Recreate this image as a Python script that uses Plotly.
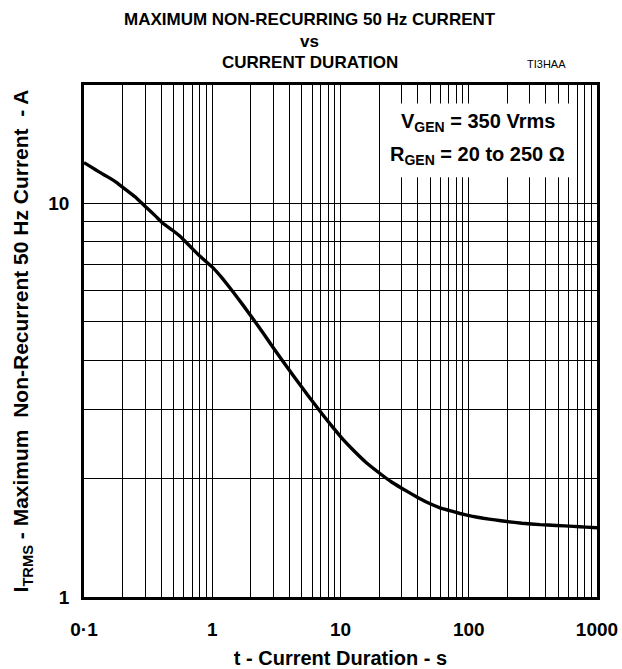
import numpy as np
import plotly.graph_objects as go

# Curve data
t_s = [0.1, 0.115, 0.13, 0.145, 0.159, 0.18, 0.2, 0.25, 0.308, 0.36, 0.415, 0.49, 0.561, 0.68,
       0.8, 1.02, 1.2, 1.46, 1.75, 2.09, 2.5, 2.99, 3.6, 4.29, 5.1, 6.14, 7.3, 8.79, 10.5,
       12.6, 16, 20.3, 25, 30, 40, 50, 59.7, 70, 85.5, 105, 130, 160, 198, 260, 360, 480,
       653, 820, 1000]
i_a = [12.7, 12.35, 12.05, 11.8, 11.6, 11.3, 11.0, 10.4, 9.75, 9.3, 8.89, 8.55, 8.25, 7.75,
       7.35, 6.85, 6.45, 5.95, 5.5, 5.08, 4.68, 4.30, 3.95, 3.65, 3.38, 3.12, 2.90, 2.69, 2.51,
       2.36, 2.19, 2.06, 1.96, 1.89, 1.79, 1.725, 1.685, 1.66, 1.63, 1.605, 1.585, 1.57, 1.555,
       1.54, 1.527, 1.52, 1.512, 1.505, 1.50]

x_grid = [m * 10.0 ** e for e in range(-1, 3) for m in range(1, 10)] + [1000]
x_labels = {0.1: "0·1", 1: "1", 10: "10", 100: "100", 1000: "1000"}
y_grid = list(range(1, 11)) + [20]
y_labels = {1: "1", 10: "10"}

title_lines = ["MAXIMUM NON-RECURRING 50 Hz CURRENT", "vs", "CURRENT DURATION"]

FONT = "Liberation Sans"

fig = go.Figure()
fig.add_trace(go.Scatter(x=t_s, y=i_a, mode="lines",
                         line=dict(color="black", width=3.4, shape="spline", smoothing=0.3),
                         hoverinfo="skip", showlegend=False))

def lab(v, d):
    for k, s in d.items():
        if abs(v - k) < 1e-9 * max(1, k):
            return s
    return ""

fig.update_xaxes(type="log", range=[-1, 3], automargin=False,
                 tickvals=x_grid, ticktext=[lab(v, x_labels) for v in x_grid],
                 showgrid=True, gridcolor="black", gridwidth=1.3,
                 showline=True, linecolor="black", linewidth=2.5, mirror=True,
                 ticks="", zeroline=False, ticklabelstandoff=13,
                 tickfont=dict(family=FONT, size=19, color="black", weight="bold"),
                 title=dict(text="t - Current Duration - s", standoff=18,
                            font=dict(family=FONT, size=20, color="black", weight="bold")))
fig.update_yaxes(type="log", range=[0, np.log10(20)], automargin=False,
                 tickvals=y_grid, ticktext=[lab(v, y_labels) for v in y_grid],
                 showgrid=True, gridcolor="black", gridwidth=1.3,
                 showline=True, linecolor="black", linewidth=2.5, mirror=True,
                 ticks="", zeroline=False, ticklabelstandoff=8,
                 tickfont=dict(family=FONT, size=19, color="black", weight="bold"),
                 title=dict(text="I<sub>TRMS</sub> - Maximum &nbsp;Non-Recurrent 50 Hz Current &nbsp;- A",
                            standoff=14,
                            font=dict(family=FONT, size=21, color="black", weight="bold")))

fig.add_shape(type="rect", xref="paper", yref="paper", x0=0.579, x1=0.958, y0=0.82, y1=0.964,
              fillcolor="white", line=dict(width=0), layer="above")
fig.add_annotation(xref="paper", yref="paper", x=0.768, y=0.926, xanchor="center", yanchor="middle",
                   showarrow=False, text="V<sub>GEN</sub> = 350 Vrms",
                   font=dict(family=FONT, size=20, color="black", weight="bold"))
fig.add_annotation(xref="paper", yref="paper", x=0.768, y=0.862, xanchor="center", yanchor="middle",
                   showarrow=False, text="R<sub>GEN</sub> = 20 to 250 Ω",
                   font=dict(family=FONT, size=20, color="black", weight="bold"))
fig.add_annotation(xref="paper", yref="paper", x=0.943, y=1.041, xanchor="right", yanchor="middle",
                   showarrow=False, text="TI3HAA",
                   font=dict(family=FONT, size=11, color="black"))

for txt, yy in zip(title_lines, [1.128, 1.085, 1.044]):
    fig.add_annotation(xref="paper", yref="paper", x=0.44, y=yy, xanchor="center", yanchor="middle",
                       showarrow=False, text=txt,
                       font=dict(family=FONT, size=17, color="black", weight="bold"))

fig.update_layout(
    width=622, height=669,
    margin=dict(l=84, r=25, t=85, b=72),
    paper_bgcolor="white", plot_bgcolor="white",
)

fig.write_html("out.html")
